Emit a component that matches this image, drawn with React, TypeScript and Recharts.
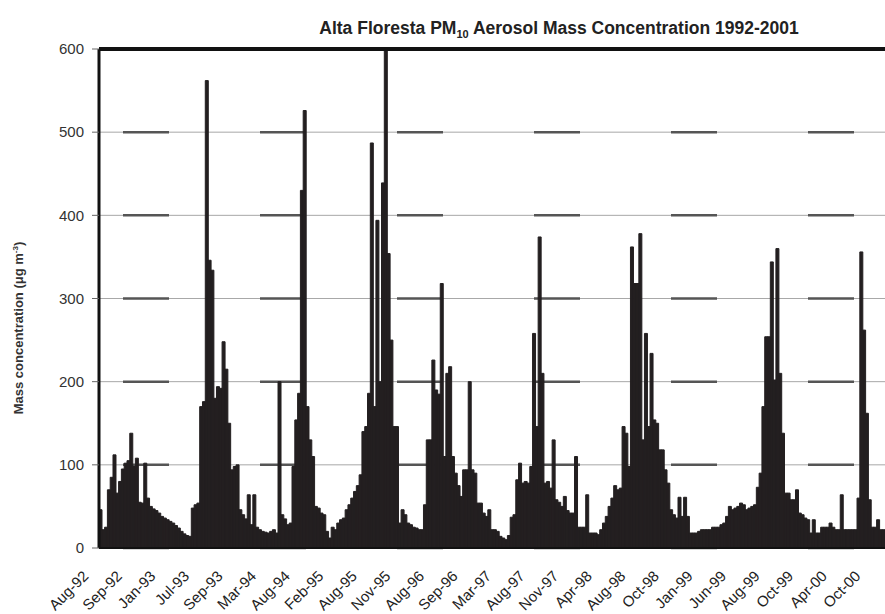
import React from "react";
import { BarChart, Bar, XAxis, YAxis, CartesianGrid, ReferenceLine } from "recharts";

const tickLabels = ["Aug-92","Sep-92","Jan-93","Jul-93","Sep-93","Mar-94","Aug-94","Feb-95","Aug-95","Nov-95","Aug-96","Sep-96","Mar-97","Aug-97","Nov-97","Apr-98","Aug-98","Oct-98","Jan-99","Jun-99","Aug-99","Oct-99","Apr-00","Oct-00"];
const yTicks = [0, 100, 200, 300, 400, 500, 600];
const labelEvery = 12;

const pm10 = [
  46,22,25,70,85,112,66,80,95,102,
  105,138,98,108,55,54,102,60,50,47,
  45,42,38,36,34,32,30,27,24,20,
  17,15,14,48,52,54,170,176,562,346,
  334,180,194,192,248,215,150,94,98,100,
  46,40,35,64,28,64,25,22,20,19,
  18,20,22,18,200,40,35,28,30,98,
  154,186,430,526,170,130,110,50,48,42,
  40,20,12,25,22,30,34,36,46,52,
  60,68,75,88,140,146,186,487,170,394,
  200,439,598,354,250,146,146,30,46,40,
  30,28,25,24,22,22,52,130,130,226,
  190,185,318,110,210,218,110,90,75,62,
  94,94,200,94,90,54,54,42,38,46,
  22,22,20,14,12,10,15,37,40,82,
  102,78,80,78,98,258,146,374,210,78,
  80,72,130,58,55,50,62,45,42,42,
  110,25,25,25,64,18,18,18,16,22,
  30,38,50,60,75,70,72,146,138,98,
  362,318,318,378,130,258,146,234,154,150,
  118,118,94,78,46,40,36,61,38,61,
  38,18,18,18,20,22,22,22,22,25,
  25,25,28,30,38,50,46,48,50,54,
  52,46,48,50,52,73,90,170,254,254,
  344,202,360,210,138,66,66,58,58,70,
  42,40,36,34,18,34,18,18,25,25,
  25,30,25,22,22,64,22,22,22,22,
  22,60,356,262,162,58,25,25,34,22,22
];

const data = pm10.map((v, i) => ({ idx: i, pm10: v }));

const FONT = "'Liberation Sans', Arial, sans-serif";

const XTick = (props: any) => {
  const { x, y, payload } = props;
  const v = Number(payload?.value);
  if (v % labelEvery !== 0) return null;
  const text = tickLabels[v / labelEvery];
  if (!text) return null;
  const ax = x - 11;
  const ay = y + 21;
  return (
    <text
      x={ax}
      y={ay}
      transform={`rotate(-45, ${ax}, ${ay})`}
      textAnchor="end"
      fontSize={15}
      fill="#222"
      fontFamily={FONT}
    >
      {text}
    </text>
  );
};

export default function App() {
  return (
    <div style={{ position: "absolute", left: 0, top: 0, width: 885, height: 614, background: "#fff" }}>
      <BarChart
        width={885}
        height={614}
        data={data}
        margin={{ top: 49, right: 0, bottom: 0, left: 0 }}
        barCategoryGap={0}
        barGap={0}
      >
        <CartesianGrid vertical={false} stroke="#a8a8a8" strokeWidth={1} />
        <CartesianGrid
          vertical={false}
          stroke="#555"
          strokeWidth={2.5}
          strokeDasharray="46 91"
          strokeDashoffset={113}
        />
        <XAxis
          dataKey="idx"
          interval={labelEvery - 1}
          tickLine={false}
          axisLine={{ stroke: "#111", strokeWidth: 2 }}
          tick={<XTick />}
          height={66}
        />
        <YAxis
          width={99}
          domain={[0, 600]}
          ticks={yTicks}
          interval={0}
          tickSize={7}
          tickMargin={8}
          tickLine={{ stroke: "#666" }}
          axisLine={{ stroke: "#111", strokeWidth: 3 }}
          tick={{ fontSize: 15, fill: "#333", fontFamily: FONT }}
        />
        <Bar dataKey="pm10" fill="#231f20" stroke="#231f20" strokeWidth={1} isAnimationActive={false} />
        <ReferenceLine y={600} stroke="#111" strokeWidth={4} />
      </BarChart>
      <svg
        width={885}
        height={614}
        style={{ position: "absolute", left: 0, top: 0, pointerEvents: "none" }}
      >
        <text x={559} y={34} textAnchor="middle" fontSize={17.5} fontWeight="bold" fill="#222" fontFamily={FONT}>
          Alta Floresta PM<tspan fontSize={11} dy={4}>10</tspan>
          <tspan dy={-4}> Aerosol Mass Concentration 1992-2001</tspan>
        </text>
        <text
          x={23}
          y={328}
          transform="rotate(-90, 23, 328)"
          textAnchor="middle"
          fontSize={13}
          fontWeight="bold"
          fill="#333"
          fontFamily={FONT}
        >
          Mass concentration (μg m<tspan fontSize={8} dy={-5}>-3</tspan><tspan dy={5}>)</tspan>
        </text>
      </svg>
    </div>
  );
}
